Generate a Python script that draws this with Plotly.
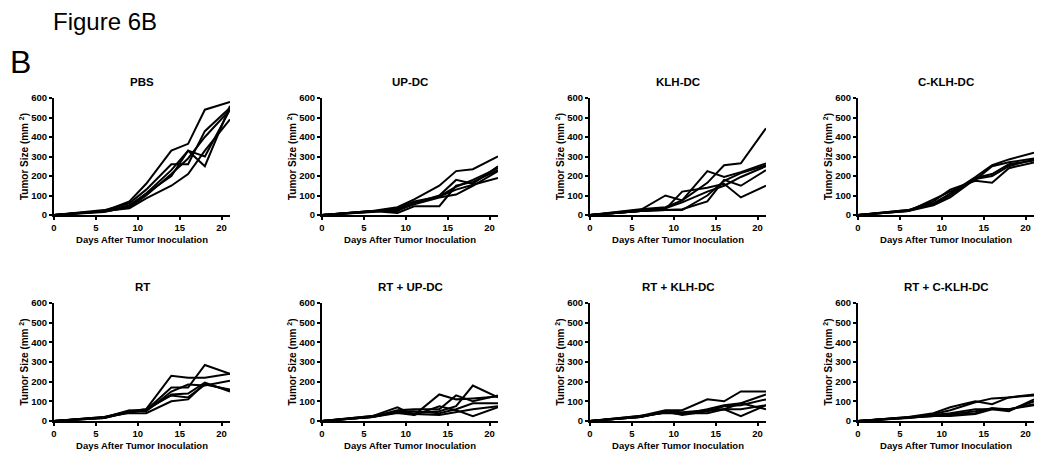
import plotly.graph_objects as go

days = [0, 6, 9, 11, 14, 16, 18, 21]

panel_titles = ["PBS", "UP-DC", "KLH-DC", "C-KLH-DC",
                "RT", "RT + UP-DC", "RT + KLH-DC", "RT + C-KLH-DC"]

pbs = [
    [0, 20, 70, 160, 330, 365, 540, 580],
    [0, 25, 60, 130, 260, 260, 430, 550],
    [0, 15, 45, 110, 230, 330, 250, 560],
    [0, 20, 35, 85, 150, 210, 330, 490],
    [0, 20, 50, 110, 200, 330, 300, 540],
    [0, 18, 40, 100, 210, 290, 400, 540],
]
up_dc = [
    [0, 20, 40, 80, 150, 225, 235, 300],
    [0, 15, 30, 60, 100, 180, 160, 250],
    [0, 20, 10, 45, 45, 150, 170, 230],
    [0, 18, 35, 70, 95, 130, 155, 190],
    [0, 15, 25, 55, 90, 105, 150, 225],
    [0, 20, 20, 60, 95, 145, 180, 240],
]
klh_dc = [
    [0, 30, 40, 75, 165, 255, 265, 445],
    [0, 25, 100, 75, 225, 195, 220, 265],
    [0, 20, 30, 120, 140, 160, 90, 150],
    [0, 20, 25, 30, 70, 180, 150, 230],
    [0, 20, 35, 65, 120, 150, 195, 250],
    [0, 20, 25, 25, 100, 175, 215, 255],
]
c_klh_dc = [
    [0, 25, 60, 110, 195, 255, 285, 320],
    [0, 20, 50, 90, 185, 200, 250, 285],
    [0, 25, 70, 130, 175, 165, 240, 270],
    [0, 20, 80, 120, 180, 250, 270, 290],
    [0, 22, 55, 100, 190, 210, 260, 280],
]
rt = [
    [0, 20, 50, 60, 230, 220, 220, 240],
    [0, 15, 45, 55, 170, 170, 285, 240],
    [0, 18, 55, 50, 150, 185, 180, 205],
    [0, 20, 40, 40, 100, 110, 190, 155],
    [0, 18, 50, 60, 130, 120, 185, 160],
    [0, 15, 45, 55, 135, 140, 195, 150],
]
rt_up_dc = [
    [0, 25, 70, 30, 135, 110, 115, 125],
    [0, 20, 55, 60, 60, 130, 100, 130],
    [0, 25, 45, 40, 50, 75, 180, 120],
    [0, 20, 40, 30, 75, 55, 25, 70],
    [0, 22, 50, 50, 40, 60, 90, 90],
    [0, 20, 45, 35, 30, 45, 60, 75],
]
rt_klh_dc = [
    [0, 25, 55, 55, 110, 100, 150, 150],
    [0, 20, 45, 35, 60, 80, 90, 135],
    [0, 20, 50, 30, 50, 75, 80, 110],
    [0, 25, 40, 40, 50, 60, 25, 80],
    [0, 22, 45, 40, 40, 60, 60, 80],
    [0, 20, 50, 45, 55, 60, 90, 60],
]
rt_c_klh_dc = [
    [0, 20, 40, 70, 100, 85, 120, 135],
    [0, 18, 35, 55, 95, 115, 120, 130],
    [0, 15, 30, 40, 60, 60, 50, 110],
    [0, 15, 25, 30, 40, 65, 60, 85],
    [0, 18, 30, 35, 50, 65, 55, 100],
    [0, 15, 25, 25, 35, 60, 60, 80],
]

groups = [pbs, up_dc, klh_dc, c_klh_dc, rt, rt_up_dc, rt_klh_dc, rt_c_klh_dc]

x_ticks = [0, 5, 10, 15, 20]
y_ticks = [0, 100, 200, 300, 400, 500, 600]
x_title = "Days After Tumor Inoculation"
y_title = "Tumor Size (mm <sup>2</sup>)"

# the page body has an 8px margin: figure origin sits at (8, 8) of the window
OFF = 8
W, H = 1050 - OFF, 453 - OFF
FONT = "Liberation Sans, Arial, sans-serif"

# pixel layout of plot areas (window coordinates)
col_left = [54, 322, 590, 858]
col_width = 176
row_px = [(98, 215), (303, 421)]


def px_x(v):
    return (v - OFF) / W


def px_y(v):
    return 1 - (v - OFF) / H


fig = go.Figure()
layout = dict(
    width=W, height=H,
    margin=dict(l=0, r=0, t=0, b=0, autoexpand=False),
    paper_bgcolor="white", plot_bgcolor="white",
    showlegend=False,
    font=dict(family=FONT, color="black"),
)
annotations = []

for i, (title, data) in enumerate(zip(panel_titles, groups)):
    r, c = divmod(i, 4)
    n = i + 1
    xa = "x" if n == 1 else f"x{n}"
    ya = "y" if n == 1 else f"y{n}"
    for series in data:
        fig.add_trace(go.Scatter(
            x=days, y=series, mode="lines",
            line=dict(color="black", width=2),
            xaxis=xa, yaxis=ya, hoverinfo="skip", cliponaxis=False,
        ))
    x0 = px_x(col_left[c])
    x1 = px_x(col_left[c] + col_width)
    top, bot = row_px[r]
    y0 = px_y(bot)
    y1 = px_y(top)
    axis_common = dict(
        showgrid=False, zeroline=False, showline=True, automargin=False,
        linecolor="black", linewidth=2,
        ticks="outside", ticklen=3, tickwidth=1.5, tickcolor="black",
        tickfont=dict(family=FONT, size=9.5, color="black", weight="bold"),
    )
    layout[f"xaxis{'' if n == 1 else n}"] = dict(
        domain=[x0, x1], anchor=ya, range=[0, 21],
        tickvals=x_ticks, ticklabelstandoff=0,
        title=dict(text=x_title, standoff=4,
                   font=dict(family=FONT, size=9.5, color="black", weight="bold")),
        **axis_common,
    )
    layout[f"yaxis{'' if n == 1 else n}"] = dict(
        domain=[y0, y1], anchor=xa, range=[0, 600],
        tickvals=y_ticks, ticklabelstandoff=0,
        title=dict(text=y_title, standoff=1,
                   font=dict(family=FONT, size=10, color="black", weight="bold")),
        **axis_common,
    )
    annotations.append(dict(
        text=title, xref="paper", yref="paper",
        x=(x0 + x1) / 2, y=y1 + 8 / H, xanchor="center", yanchor="bottom",
        showarrow=False,
        font=dict(family=FONT, size=11.5, color="black", weight="bold"),
    ))

annotations.append(dict(
    text="Figure 6B", xref="paper", yref="paper",
    x=px_x(51), y=px_y(6), xanchor="left", yanchor="top", showarrow=False,
    font=dict(family=FONT, size=24, color="black"),
))
annotations.append(dict(
    text="B", xref="paper", yref="paper",
    x=px_x(8), y=px_y(42), xanchor="left", yanchor="top", showarrow=False,
    font=dict(family=FONT, size=32, color="black"),
))
layout["annotations"] = annotations
fig.update_layout(**layout)
fig.write_html("out.html")
